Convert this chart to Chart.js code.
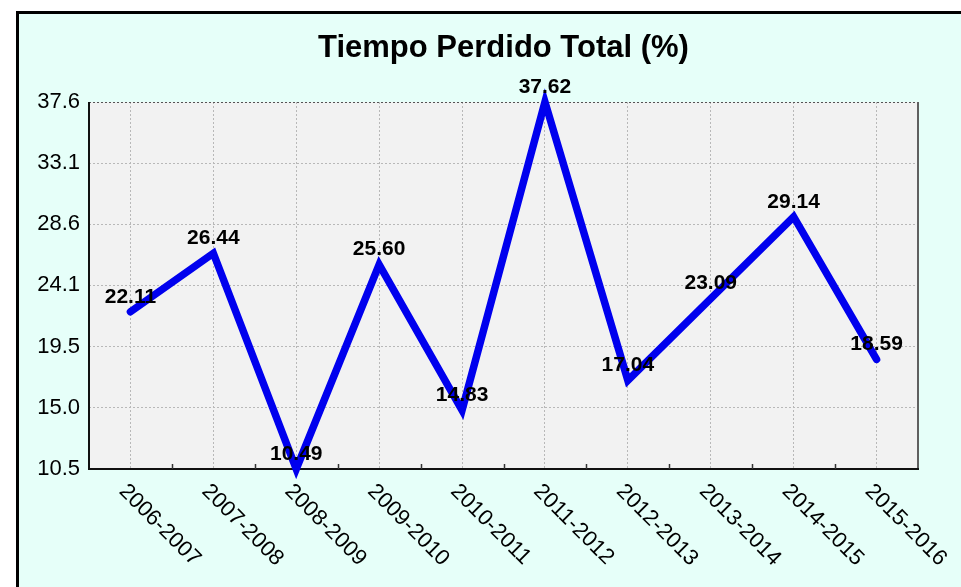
<!DOCTYPE html>
<html>
<head>
<meta charset="utf-8">
<script src="https://cdn.jsdelivr.net/npm/chart.js@4/dist/chart.umd.min.js"></script>
<style>
    html, body { margin: 0; padding: 0; background: #ffffff; }
    canvas { display: block; }
</style>
</head>
<body>
<canvas id="lostTimeChart" width="961" height="587"></canvas>
<script>
/* -------- Data -------- */
const categories = ['2006-2007', '2007-2008', '2008-2009', '2009-2010', '2010-2011',
                    '2011-2012', '2012-2013', '2013-2014', '2014-2015', '2015-2016'];
const lostTime = [22.11, 26.44, 10.49, 25.60, 14.83, 37.62, 17.04, 23.09, 29.14, 18.59];
const yTicks = [10.49, 15.01, 19.53, 24.06, 28.58, 33.10, 37.62];
const chartTitle = 'Tiempo Perdido Total (%)';

/* -------- Colors -------- */
const COLORS = {
    page: '#E6FFF9',
    plot: '#F2F2F2',
    line: '#0000EE',
    grid: '#B8B8B8',
    axis: '#333333',
    text: '#000000'
};
const FONT = '"Liberation Sans", Arial, sans-serif';

/* -------- Background, frame, title -------- */
const framePlugin = {
    id: 'frame',
    beforeDraw(chart) {
        const { ctx, chartArea: a } = chart;
        ctx.save();
        ctx.fillStyle = '#ffffff';
        ctx.fillRect(0, 0, chart.width, chart.height);
        ctx.fillStyle = COLORS.page;
        ctx.fillRect(17, 12, chart.width, chart.height);
        ctx.strokeStyle = '#000000';
        ctx.lineWidth = 3;
        ctx.strokeRect(17.5, 12.5, chart.width + 20, chart.height + 20);
        ctx.fillStyle = COLORS.plot;
        ctx.fillRect(a.left, a.top, a.right - a.left, a.bottom - a.top);

        ctx.fillStyle = COLORS.text;
        ctx.font = 'bold 31px ' + FONT;
        ctx.textAlign = 'center';
        ctx.textBaseline = 'middle';
        ctx.fillText(chartTitle, (a.left + a.right) / 2, 48);
        ctx.restore();
    },
    beforeDatasetsDraw(chart) {
        const { ctx, chartArea: a, scales } = chart;
        const x = scales.x;
        ctx.save();
        // top border (dotted, darker)
        ctx.strokeStyle = '#555555';
        ctx.lineWidth = 1;
        ctx.setLineDash([2, 2]);
        ctx.beginPath();
        ctx.moveTo(a.left, a.top + 0.5);
        ctx.lineTo(a.right, a.top + 0.5);
        ctx.stroke();
        ctx.setLineDash([]);
        // right border
        ctx.strokeStyle = '#606060';
        ctx.lineWidth = 2;
        ctx.beginPath();
        ctx.moveTo(a.right, a.top);
        ctx.lineTo(a.right, a.bottom);
        ctx.stroke();
        // left and bottom axis lines
        ctx.strokeStyle = '#111111';
        ctx.beginPath();
        ctx.moveTo(a.left, a.top);
        ctx.lineTo(a.left, a.bottom);
        ctx.lineTo(a.right + 1, a.bottom);
        ctx.stroke();
        // small ticks between categories
        ctx.strokeStyle = COLORS.axis;
        ctx.lineWidth = 1.5;
        for (let i = 0; i < categories.length - 1; i++) {
            const bx = Math.round((x.getPixelForTick(i) + x.getPixelForTick(i + 1)) / 2) + 0.5;
            ctx.beginPath();
            ctx.moveTo(bx, a.bottom);
            ctx.lineTo(bx, a.bottom - 5);
            ctx.stroke();
        }
        ctx.restore();
    },
    afterDatasetsDraw(chart) {
        const { ctx, chartArea: a, scales } = chart;
        const meta = chart.getDatasetMeta(0);
        ctx.save();
        // value labels
        ctx.fillStyle = COLORS.text;
        ctx.font = 'bold 21px ' + FONT;
        ctx.textAlign = 'center';
        ctx.textBaseline = 'middle';
        meta.data.forEach((pt, i) => {
            ctx.fillText(lostTime[i].toFixed(2), pt.x, pt.y - 15);
        });
        // rotated category labels
        ctx.font = '22px ' + FONT;
        ctx.textAlign = 'left';
        categories.forEach((label, i) => {
            const px = scales.x.getPixelForTick(i);
            ctx.save();
            ctx.translate(px - 8, a.bottom + 19);
            ctx.rotate(Math.PI / 4);
            ctx.fillText(label, 0, 0);
            ctx.restore();
        });
        ctx.restore();
    }
};

/* -------- Chart -------- */
new Chart(document.getElementById('lostTimeChart'), {
    type: 'line',
    data: {
        labels: categories,
        datasets: [{
            label: chartTitle,
            data: lostTime,
            borderColor: COLORS.line,
            borderWidth: 7.5,
            borderCapStyle: 'round',
            borderJoinStyle: 'miter',
            pointRadius: 0,
            tension: 0,
            clip: false
        }]
    },
    options: {
        responsive: false,
        animation: false,
        layout: { padding: { left: 0, right: 43, top: 102, bottom: 0 } },
        plugins: {
            legend: { display: false },
            title: { display: false },
            tooltip: { enabled: false }
        },
        scales: {
            x: {
                offset: true,
                grid: {
                    offset: false,
                    color: COLORS.grid,
                    drawTicks: false
                },
                border: { display: false, dash: [2, 2] },
                ticks: { display: false },
                afterFit: scale => { scale.height = 118; }
            },
            y: {
                min: 10.49,
                max: 37.62,
                afterBuildTicks: scale => {
                    scale.ticks = yTicks.map(v => ({ value: v }));
                },
                grid: {
                    color: COLORS.grid,
                    drawTicks: false
                },
                border: { display: false, dash: [2, 2] },
                ticks: {
                    padding: 9,
                    color: COLORS.text,
                    font: { family: FONT, size: 22 },
                    callback: v => Number(v).toFixed(1)
                },
                afterFit: scale => { scale.width = 89; }
            }
        }
    },
    plugins: [framePlugin]
});
</script>
</body>
</html>
